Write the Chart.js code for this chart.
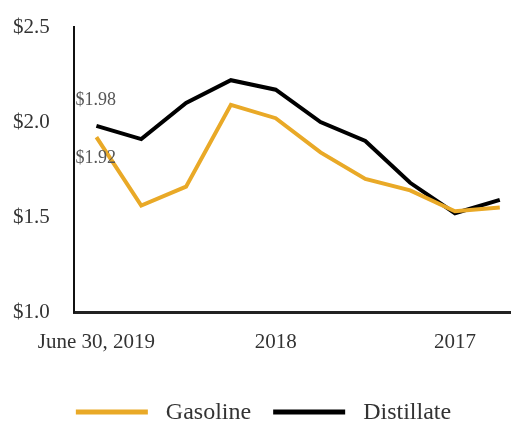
<!DOCTYPE html>
<html>
<head>
<meta charset="utf-8">
<script src="https://cdn.jsdelivr.net/npm/chart.js@4"></script>
<style>
  html, body { margin: 0; padding: 0; background: #fff; }
  #wrap { width: 511px; height: 428px; }
</style>
</head>
<body>
<div id="wrap"><canvas id="priceChart"></canvas></div>
<script>
// Datos (trimestres, del más reciente al más antiguo)
const quarters = ['June 30, 2019', 'Mar 2019', 'Dec 2018', 'Sep 2018', '2018', 'Mar 2018', 'Dec 2017', 'Sep 2017', '2017', 'Mar 2017'];
const gasoline = [1.92, 1.56, 1.66, 2.09, 2.02, 1.84, 1.70, 1.64, 1.53, 1.55];
const distillate = [1.98, 1.91, 2.10, 2.22, 2.17, 2.00, 1.90, 1.68, 1.52, 1.59];
const tickIndexes = [0, 4, 8];
const yTicks = [1.0, 1.5, 2.0, 2.5];

const serif = "'Liberation Serif', 'DejaVu Serif', serif";
const gasColor = '#E9A927';
const distColor = '#000000';

// Etiquetas del primer punto
const firstValueLabels = {
    id: 'firstValueLabels',
    afterDatasetsDraw(chart) {
        const ctx = chart.ctx;
        ctx.save();
        ctx.font = '18px ' + serif;
        ctx.fillStyle = '#555';
        ctx.textAlign = 'left';
        ctx.textBaseline = 'middle';
        chart.data.datasets.forEach((ds, i) => {
            const pt = chart.getDatasetMeta(i).data[0];
            const dy = ds.label === 'Distillate' ? -26 : 21;
            ctx.fillText('$' + ds.data[0].y.toFixed(2), pt.x - 21, pt.y + dy);
        });
        ctx.restore();
    }
};

// Leyenda dibujada a mano
const bottomLegend = {
    id: 'bottomLegend',
    afterDraw(chart) {
        const ctx = chart.ctx;
        const sample = 72, gap = 18, spacing = 22;
        ctx.save();
        ctx.font = '24px ' + serif;
        const items = chart.data.datasets.map(ds => ({
            text: ds.label, color: ds.borderColor, w: ctx.measureText(ds.label).width
        }));
        let total = items.reduce((s, it) => s + sample + gap + it.w, 0) + spacing * (items.length - 1);
        let x = chart.width / 2 + 8 - total / 2;
        const y = 412;
        items.forEach(it => {
            ctx.strokeStyle = it.color;
            ctx.lineWidth = 5;
            ctx.beginPath();
            ctx.moveTo(x, y);
            ctx.lineTo(x + sample, y);
            ctx.stroke();
            ctx.fillStyle = '#333';
            ctx.textBaseline = 'middle';
            ctx.fillText(it.text, x + sample + gap, y + 1);
            x += sample + gap + it.w + spacing;
        });
        ctx.restore();
    }
};

const toPoints = arr => arr.map((v, i) => ({ x: i, y: v }));

new Chart(document.getElementById('priceChart'), {
    type: 'line',
    data: {
        datasets: [
            { label: 'Gasoline', data: toPoints(gasoline), borderColor: gasColor, backgroundColor: gasColor },
            { label: 'Distillate', data: toPoints(distillate), borderColor: distColor, backgroundColor: distColor }
        ]
    },
    options: {
        responsive: true,
        maintainAspectRatio: false,
        animation: false,
        elements: {
            line: { borderWidth: 4, tension: 0, borderJoinStyle: 'miter' },
            point: { radius: 0 }
        },
        layout: { padding: { top: 27, right: 0, bottom: 60, left: 13 } },
        plugins: { legend: { display: false }, tooltip: { enabled: false } },
        scales: {
            x: {
                type: 'linear',
                min: -0.5,
                max: 9.25,
                afterBuildTicks: scale => { scale.ticks = tickIndexes.map(v => ({ value: v })); },
                afterFit: scale => { scale.height = 56; },
                grid: { display: false, drawTicks: false },
                border: { display: true, color: '#222', width: 3 },
                ticks: {
                    padding: 18,
                    maxRotation: 0,
                    autoSkip: false,
                    color: '#333',
                    font: { family: serif, size: 21 },
                    callback: v => quarters[v]
                }
            },
            y: {
                min: 1.0,
                max: 2.5,
                afterBuildTicks: scale => { scale.ticks = yTicks.map(v => ({ value: v })); },
                afterFit: scale => { scale.width = 61; },
                grid: { display: false, drawTicks: false },
                border: { display: true, color: '#111', width: 2 },
                ticks: {
                    crossAlign: 'far',
                    color: '#333',
                    font: { family: serif, size: 21 },
                    callback: v => '$' + v.toFixed(1)
                }
            }
        }
    },
    plugins: [firstValueLabels, bottomLegend]
});
</script>
</body>
</html>
